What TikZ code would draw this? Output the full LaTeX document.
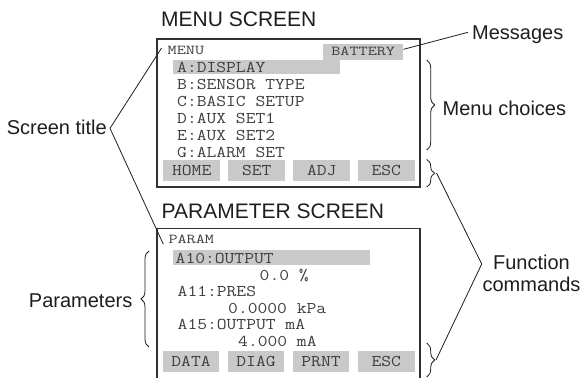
\documentclass[tikz,border=0pt]{standalone}
\usepackage{fontspec}
\usepackage{graphicx}
\setmainfont{Liberation Sans}
\usetikzlibrary{decorations.pathreplacing}
\definecolor{hl}{RGB}{201,201,201}
\definecolor{lcdtext}{RGB}{62,62,62}
\definecolor{framec}{RGB}{50,50,50}
\definecolor{inkc}{RGB}{30,30,30}
\newcommand{\sx}[1]{\scalebox{1.16}[1]{#1}}
\newcommand{\sxs}[1]{\scalebox{1.3}[1]{#1}}
\begin{document}
\begin{tikzpicture}[x=1pt,y=-1pt,
  lcd/.style={anchor=base west,inner sep=0pt,text=lcdtext,font=\ttfamily\fontsize{16.4}{18}\selectfont},
  lcdsm/.style={anchor=base west,inner sep=0pt,text=lcdtext,font=\ttfamily\fontsize{13.6}{15}\selectfont},
  scrtitle/.style={anchor=base west,inner sep=0pt,text=inkc,font=\fontsize{21}{24}\selectfont},
  lbl/.style={inner sep=0pt,text=inkc,font=\fontsize{20}{21.6}\selectfont},
  scr/.style={draw=framec,line width=1.2pt},
  btn/.style={fill=hl,inner sep=0pt,minimum width=56.5pt,minimum height=21pt,text height=10pt,text depth=0pt,text=lcdtext,font=\ttfamily\fontsize{16.4}{18}\selectfont},
  conn/.style={draw=inkc,line width=0.8pt},
  brc/.style={decorate,decoration={brace,amplitude=8pt},draw=inkc,line width=0.8pt}
]
\useasboundingbox (0,0) rectangle (585,377);
\fill[white] (0,0) rectangle (585,377);

% ---------- MENU SCREEN ----------
\node[scrtitle] (t1) at (161,27) {MENU SCREEN};
\draw[scr] (157,39) rectangle (420,187);
\node[lcdsm] (m0) at (167.5,54.3) {\sxs{MENU}};
\node[fill=hl,anchor=north west,inner sep=0pt,minimum width=80pt,minimum height=15.7pt,text height=8.3pt,text depth=2.6pt,text=lcdtext,font=\ttfamily\fontsize{13.6}{15}\selectfont] (bat) at (323,44.3) {\sxs{BATTERY}};
\fill[hl] (173.3,60) rectangle (340,74.5);
\node[lcd] (ma) at (177,72.3) {\sx{A:DISPLAY}};
\node[lcd] (mb) at (177,89.3) {\sx{B:SENSOR TYPE}};
\node[lcd] (mc) at (177,106.3) {\sx{C:BASIC SETUP}};
\node[lcd] (md) at (177,123.3) {\sx{D:AUX SET1}};
\node[lcd] (me) at (177,140.3) {\sx{E:AUX SET2}};
\node[lcd] (mg) at (177,157.3) {\sx{G:ALARM SET}};
\node[btn] (b1) at (191.7,170.3) {\sx{HOME}};
\node[btn] (b2) at (256.7,170.3) {\sx{SET}};
\node[btn] (b3) at (321.7,170.3) {\sx{ADJ}};
\node[btn] (b4) at (386.3,170.3) {\sx{ESC}};

% ---------- PARAMETER SCREEN ----------
\node[scrtitle] (t2) at (161.5,218.3) {PARAMETER SCREEN};
\draw[scr] (157,390) -- (157,228.5) -- (420,228.5) -- (420,390);
\node[lcdsm] (p0) at (168.3,243.3) {\sxs{PARAM}};
\fill[hl] (172.7,250) rectangle (370,265);
\node[lcd] (pa) at (175.5,263.3) {\sx{A10:OUTPUT}};
\node[lcd] (pav) at (259.5,280) {\sx{0.0 \%}};
\node[lcd] (pb) at (177.5,296.6) {\sx{A11:PRES}};
\node[lcd] (pbv) at (228,313.2) {\sx{0.0000 kPa}};
\node[lcd] (pc) at (177.5,329.8) {\sx{A15:OUTPUT mA}};
\node[lcd] (pcv) at (238,346.4) {\sx{4.000 mA}};
\node[btn] (q1) at (191,361) {\sx{DATA}};
\node[btn] (q2) at (256,361) {\sx{DIAG}};
\node[btn] (q3) at (321,361) {\sx{PRNT}};
\node[btn] (q4) at (386.3,361) {\sx{ESC}};

% ---------- annotations ----------
\node[lbl,anchor=base west] (msg) at (472,40) {Messages};
\draw[conn] ([yshift=3pt]bat.east) -- ([shift={(-4pt,7.7pt)}]msg.base west);

\draw[brc] (426.7,60) -- (426.7,150);
\node[lbl,anchor=base west] (mch) at (442.5,115) {Menu choices};

\draw[brc] (426.7,159.5) -- (426.7,187);
\draw[brc] (426.7,343) -- (426.7,377);
\coordinate (ft1) at (436.5,173);
\coordinate (ft2) at (436,360);
\coordinate (fap) at (481.7,264);
\node[lbl,anchor=north,align=center] (fc) at (531.5,255) {Function\\commands};
\draw[conn] (ft1) -- (fap) -- (ft2);

\node[lbl,anchor=east] (stl) at (107,127.7) {Screen title};
\coordinate (sap) at (110,128.3);
\draw[conn] ([shift={(-6pt,-2.3pt)}]m0.north west) -- (sap) -- ([shift={(-5pt,-5pt)}]p0.west);

\node[lbl,anchor=east] (prm) at (132.5,300.3) {Parameters};
\draw[brc] (149,347) -- (149,251);
\end{tikzpicture}
\end{document}
